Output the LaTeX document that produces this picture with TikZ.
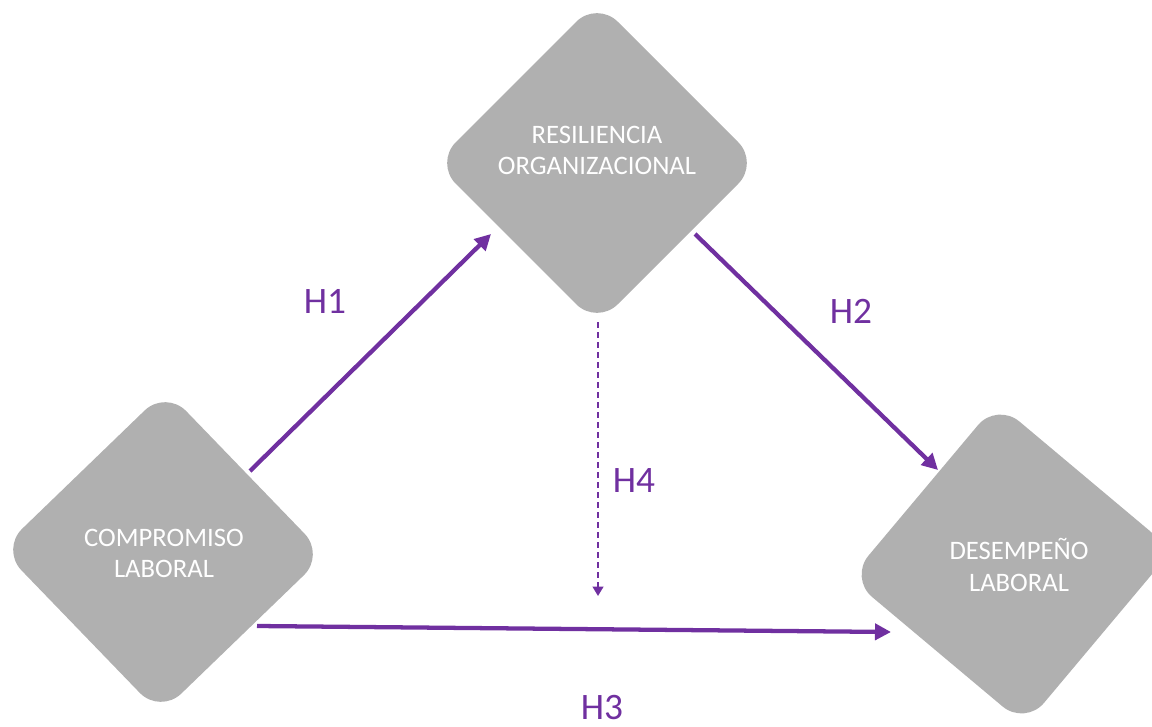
\documentclass[tikz,border=0pt]{standalone}
\usepackage{fontspec}
\setmainfont{Carlito}
\usetikzlibrary{arrows.meta,calc}
\definecolor{boxgray}{HTML}{B0B0B0}
\definecolor{hpurple}{HTML}{7030A0}
\newcommand\rdiamond[2]{%
  \fill[boxgray, rounded corners=22pt]
    ($(#1)+(#2:162)$) -- ($(#1)+(#2+90:162)$) -- ($(#1)+(#2+180:162)$) -- ($(#1)+(#2+270:162)$) -- cycle;}
\begin{document}
\begin{tikzpicture}[x=0.75pt,y=-0.75pt,
  dtext/.style={text=white, font=\fontsize{20}{23.3}\selectfont, align=center, inner sep=0pt},
  hlabel/.style={text=hpurple, font=\fontsize{28}{30}\selectfont, inner sep=0pt},
  arr/.style={draw=hpurple, line width=3.2pt, -{Triangle[length=12pt,width=12pt]}},
  darr/.style={draw=hpurple, line width=1.4pt, dash pattern=on 4.5pt off 3pt, -{Triangle[length=7pt,width=8pt]}}]
\useasboundingbox (0,0) rectangle (1152,727);
% diamond centres
\coordinate (cR) at (597,163);
\coordinate (cC) at (163,552);
\coordinate (cD) at (1011,564);
\rdiamond{cR}{0}
\rdiamond{cC}{1}
\rdiamond{cD}{-5}
% texts
\node[dtext] (res) at (597,150) {RESILIENCIA\\ORGANIZACIONAL};
\node[dtext] (com) at (164,553) {COMPROMISO\\LABORAL};
\node[dtext] (des) at (1019,565) {DESEMPEÑO\\LABORAL};
% connector ends
\coordinate (h1s) at (250,471);
\coordinate (h1e) at (491,234);
\coordinate (h2s) at (695,234);
\coordinate (h2e) at (938,470);
\coordinate (h3s) at (257,626);
\coordinate (h3e) at (891,632);
\coordinate (h4s) at (598,322);
\coordinate (h4e) at (598,596);
\draw[arr] (h1s) -- (h1e);
\draw[arr] (h2s) -- (h2e);
\draw[arr] (h3s) -- (h3e);
\draw[darr] (h4s) -- (h4e);
% labels
\node[hlabel] (l1) at (325,301) {H1};
\node[hlabel] (l2) at (851,311) {H2};
\node[hlabel] (l3) at (602,708) {H3};
\node[hlabel] (l4) at (634,481) {H4};
\end{tikzpicture}
\end{document}
